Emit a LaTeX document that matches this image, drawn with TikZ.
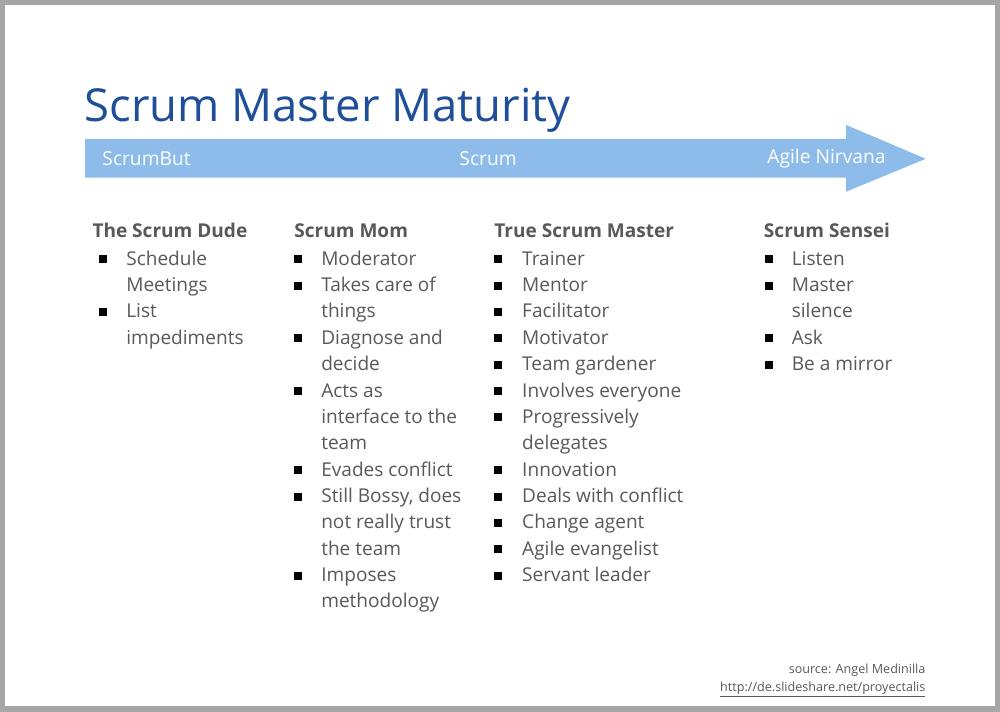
\documentclass[tikz,border=0pt]{standalone}
\usepackage{fontspec}
\setmainfont{Open Sans}
\usepackage{xcolor}
\definecolor{titleblue}{HTML}{1F4E9A}
\definecolor{arrowblue}{HTML}{8DBCEA}
\definecolor{txtgrey}{HTML}{595959}
\begin{document}
\begin{tikzpicture}[x=0.02cm,y=-0.02cm,
  item/.style={anchor=base west,inner sep=0pt,text=txtgrey,font=\fontsize{10.9}{14}\selectfont},
  head/.style={anchor=base west,inner sep=0pt,text=txtgrey,font=\fontsize{10.9}{14}\selectfont\bfseries},
  bul/.style={fill=black,minimum size=0.16cm,inner sep=0pt,draw=none},
  alab/.style={inner sep=0pt,text=white,font=\fontsize{11}{14}\selectfont}]
\fill[white] (0,0) rectangle (1000,710);
\draw[gray!70,line width=3pt] (0,0) rectangle (1000,710);
\node[anchor=base west,inner sep=0pt,text=titleblue,font=\fontsize{26}{30}\selectfont] (title) at (82,120) {Scrum Master Maturity};
\fill[arrowblue] (83,137) -- (848,137) -- (848,123) -- (928,157) -- (848,190) -- (848,176) -- (83,176) -- cycle;
\node[alab,anchor=west] (sb) at (100,157) {ScrumBut};
\node[alab] (sc) at (488,157) {Scrum};
\node[alab,anchor=east] (an) at (888,157) {Agile Nirvana};
\newcommand{\column}[6]{%
  \node[head] (h#1) at (#2,236) {#3};
  \foreach \t/\b [count=\i] in {#6}{%
    \node[item] (i#1\i) at (#5,264+26.5*\i-26.5) {\t};
    \ifnum\b=1 \node[bul] (b#1\i) at (#4,258+26.5*\i-26.5) {};\fi
  }}
\column{a}{90}{The Scrum Dude}{101}{124}{Schedule/1,Meetings/0,List/1,impediments/0}
\column{b}{293}{Scrum Mom}{297}{320}{Moderator/1,Takes care of/1,things/0,Diagnose and/1,decide/0,Acts as/1,interface to the/0,team/0,Evades conflict/1,{Still Bossy, does}/1,not really trust/0,the team/0,Imposes/1,methodology/0}
\column{c}{494}{True Scrum Master}{498}{522}{Trainer/1,Mentor/1,Facilitator/1,Motivator/1,Team gardener/1,Involves everyone/1,Progressively/1,delegates/0,Innovation/1,Deals with conflict/1,Change agent/1,Agile evangelist/1,Servant leader/1}
\column{d}{765}{Scrum Sensei}{770}{793}{Listen/1,Master/1,silence/0,Ask/1,Be a mirror/1}
\node[anchor=base east,inner sep=0pt,text=txtgrey,font=\fontsize{7.2}{9}\selectfont] (src) at (928,674) {source: Angel Medinilla};
\node[anchor=base east,inner sep=0pt,text=txtgrey,font=\fontsize{7.2}{9}\selectfont] (url) at (928,692) {\underline{http://de.slideshare.net/proyectalis}};
\end{tikzpicture}
\end{document}
